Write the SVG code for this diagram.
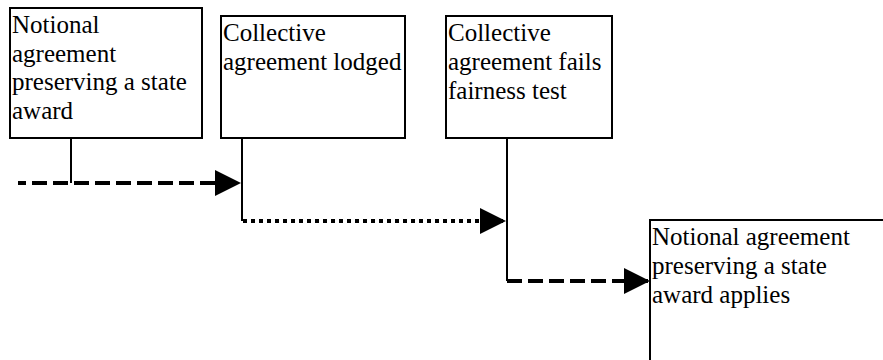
<svg xmlns="http://www.w3.org/2000/svg" width="883" height="360" viewBox="0 0 883 360">
<style>
.box{fill:#fff;stroke:#000;stroke-width:2}
.t{font-family:"Liberation Serif","Times New Roman",serif;font-size:25px;fill:#000}
.v{stroke:#000;stroke-width:2;fill:none}
.dash{stroke:#000;stroke-width:4;fill:none;stroke-dasharray:15 6}
.dot{stroke:#000;stroke-width:4;fill:none;stroke-dasharray:4 4}
</style>
<defs>
<marker id="ah" markerUnits="userSpaceOnUse" markerWidth="26" markerHeight="26" refX="26" refY="13" orient="auto">
<path d="M0,0 L26,13 L0,26 Z" fill="#000"/>
</marker>
</defs>
<rect width="883" height="360" fill="#fff"/>
<g id="n1">
<rect class="box" x="10" y="8" width="192" height="130"/>
<text class="t" x="12" y="33">Notional</text>
<text class="t" x="12" y="61.5">agreement</text>
<text class="t" x="12" y="90">preserving a state</text>
<text class="t" x="12" y="118.5">award</text>
</g>
<g id="n2">
<rect class="box" x="221" y="16" width="184" height="122"/>
<text class="t" x="223" y="41">Collective</text>
<text class="t" x="223" y="70">agreement lodged</text>
</g>
<g id="n3">
<rect class="box" x="446" y="16" width="166" height="122"/>
<text class="t" x="448" y="41">Collective</text>
<text class="t" x="448" y="70">agreement fails</text>
<text class="t" x="448" y="99">fairness test</text>
</g>
<g id="n4">
<rect class="box" x="650" y="220" width="250" height="160"/>
<text class="t" x="652" y="245">Notional agreement</text>
<text class="t" x="652" y="274">preserving a state</text>
<text class="t" x="652" y="302.5">award applies</text>
</g>
<g id="connectors">
<line class="v" x1="71" y1="138" x2="71" y2="183"/>
<line class="dash" x1="18" y1="183" x2="241" y2="183" stroke-dashoffset="7" marker-end="url(#ah)"/>
<line class="v" x1="242" y1="138" x2="242" y2="221"/>
<line class="dot" x1="243" y1="221" x2="506" y2="221" marker-end="url(#ah)"/>
<line class="v" x1="507" y1="138" x2="507" y2="281"/>
<line class="dash" x1="507" y1="281" x2="650" y2="281" marker-end="url(#ah)"/>
</g>
</svg>
